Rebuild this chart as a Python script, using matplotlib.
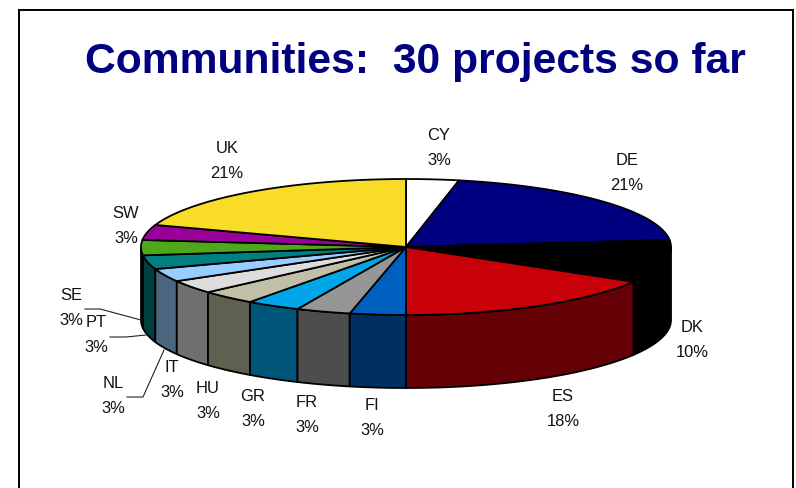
import numpy as np
import matplotlib
matplotlib.use("Agg")
import matplotlib.pyplot as plt
from matplotlib.patches import Polygon, Rectangle

plt.rcParams['font.family'] = ['Liberation Sans', 'DejaVu Sans']

# Data
categories = ["CY", "DE", "DK", "ES", "FI", "FR", "GR", "HU", "IT", "NL", "PT", "SE", "SW", "UK"]
pct_labels = ["3%", "21%", "10%", "18%", "3%", "3%", "3%", "3%", "3%", "3%", "3%", "3%", "3%", "21%"]
# slice shares as drawn (the 3-D view distorts them slightly from the printed labels)
drawn_shares = [3.2, 20.1, 10.2, 16.4, 3.4, 3.3, 3.3, 3.4, 3.2, 3.1, 3.3, 3.6, 3.6, 19.7]
top_colors = ["#FFFFFF", "#000080", "#000000", "#C80008", "#0060C0", "#969696", "#00A6E8",
              "#C0C0A8", "#DDDDDD", "#99CCFF", "#008080", "#4FA81C", "#990099", "#F9DC28"]
side_colors = ["#808080", "#000040", "#000000", "#640006", "#003060", "#4D4D4D", "#00557A",
               "#606050", "#707070", "#4D6680", "#004040", "#285410", "#4D004D", "#7D6E14"]

# Layout (pixels)
W, H = 796, 488
CX, CY, RX, RY, DEPTH = 406, 247, 265, 68, 73
label_xy = {"CY": (439, 148), "DE": (627, 173), "DK": (692, 340), "ES": (563, 409),
            "FI": (372, 418), "FR": (307, 415), "GR": (253, 409), "HU": (208, 401),
            "IT": (172, 380), "NL": (113, 396), "PT": (96, 335), "SE": (71, 308),
            "SW": (126, 226), "UK": (227, 161)}
leaders = {"SE": [(85, 309), (100, 309), (141, 320)],
           "PT": [(110, 337), (126, 337), (146, 335)],
           "NL": [(127, 397), (143, 397), (164, 350)]}

fig = plt.figure(figsize=(W / 100, H / 100), dpi=100, facecolor="white")
ax = fig.add_axes([0, 0, 1, 1])
ax.set_xlim(0, W)
ax.set_ylim(H, 0)
ax.axis("off")

# Slide frame
ax.add_patch(Rectangle((19, 9.5), 773.5, 500, fc="white", ec="black", lw=1.4, zorder=0))

ax.text(415, 62, "Communities:  30 projects so far", color="#000080", fontsize=30.7,
        fontweight="bold", ha="center", va="center", zorder=5)

shares = np.array(drawn_shares, dtype=float)
edges = np.concatenate([[0], np.cumsum(shares)]) / shares.sum() * 2 * np.pi


def rim(a, b, dy=0.0):
    t = np.linspace(a, b, max(4, int(abs(b - a) * 60)))
    return np.column_stack([CX + RX * np.sin(t), CY - RY * np.cos(t) + dy])


# Side walls, only where the rim faces the viewer, back to front towards the middle
lo, hi = np.pi / 2, 3 * np.pi / 2
order = sorted(range(len(shares)), key=lambda i: -abs((edges[i] + edges[i + 1]) / 2 - np.pi))
for i in order:
    a, b = max(edges[i], lo), min(edges[i + 1], hi)
    if b <= a:
        continue
    pts = np.vstack([rim(a, b), rim(a, b, DEPTH)[::-1]])
    ax.add_patch(Polygon(pts, closed=True, fc=side_colors[i], ec="black", lw=1.3,
                         joinstyle="round", zorder=2))

# Top faces
for i in range(len(shares)):
    pts = np.vstack([[CX, CY], rim(edges[i], edges[i + 1])])
    ax.add_patch(Polygon(pts, closed=True, fc=top_colors[i], ec="black", lw=1.3,
                         joinstyle="round", zorder=3))

# Labels
for name, pct in zip(categories, pct_labels):
    x, y = label_xy[name]
    ax.text(x, y, f"{name}\n{pct}", fontsize=11.9, color="#111111", ha="center", va="center",
            linespacing=1.85, zorder=6)

# Leader lines
for name, path in leaders.items():
    xs, ys = zip(*path)
    ax.plot(xs, ys, color="#222222", lw=0.8, zorder=4)

fig.savefig("out.png", dpi=100, facecolor="white")
